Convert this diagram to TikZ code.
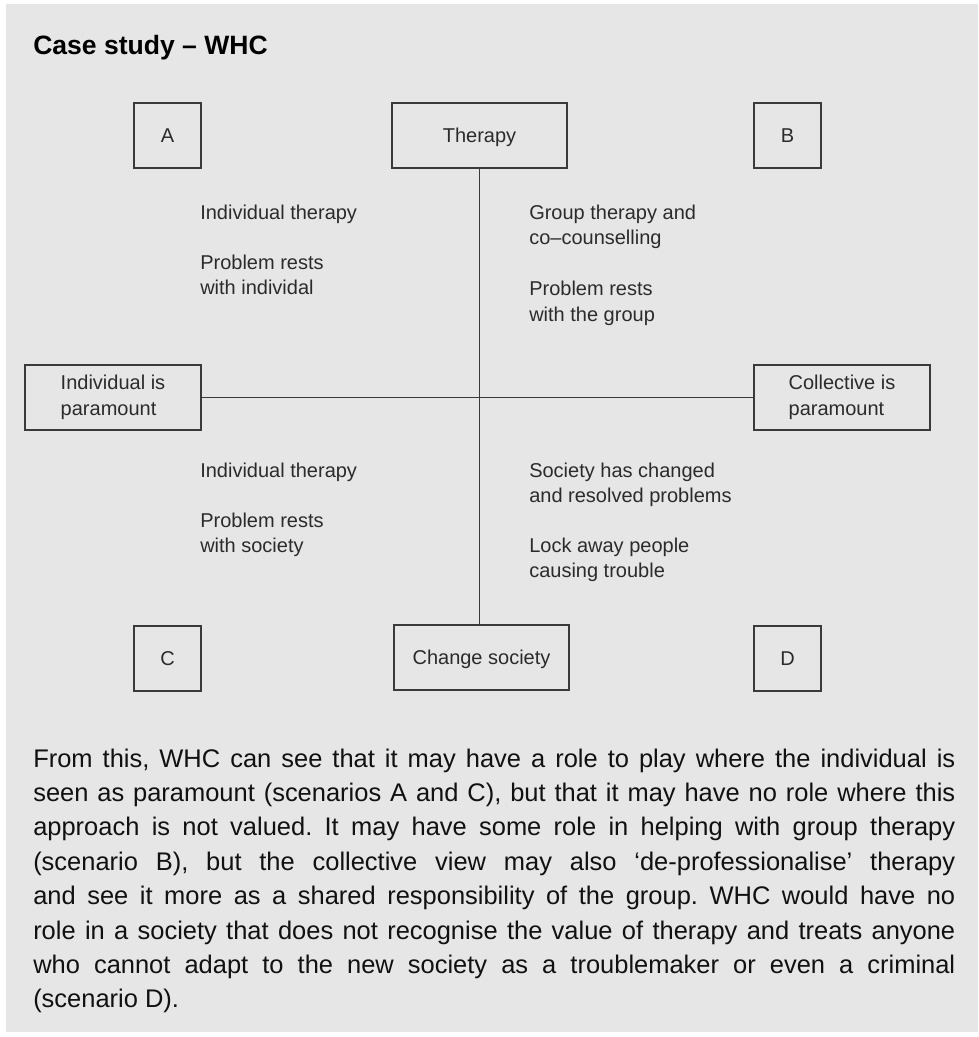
\documentclass[tikz,border=0pt]{standalone}
\usepackage{fontspec}
\setmainfont{Liberation Sans}
\frenchspacing
\definecolor{bggray}{HTML}{E6E6E6}
\definecolor{boxline}{HTML}{3A3A3A}
\definecolor{labeltext}{HTML}{2B2B2B}
\definecolor{paratext}{HTML}{111111}
\begin{document}
\begin{tikzpicture}[x=0.75pt,y=-0.75pt,
  box/.style={draw=boxline, line width=1.1pt, inner sep=0pt, minimum height=48.75pt,
    text=labeltext, font=\fontsize{15}{19.5}\selectfont, align=left},
  one/.style={text height=10.7pt, text depth=0pt},
  sq/.style={box, one, minimum width=50.25pt},
  wide/.style={box, one, minimum width=131.25pt},
  wider/.style={box, minimum width=132pt},
  lbl/.style={anchor=base west, inner sep=0pt, text=labeltext, font=\fontsize{15}{19.5}\selectfont},
  para/.style={anchor=base west, inner sep=0pt, text=paratext, font=\fontsize{19.1}{25.8}\selectfont\frenchspacing},
  link/.style={draw=boxline, line width=1.1pt}]
\useasboundingbox (0,0) rectangle (978,1037);
\fill[fill=bggray] (6,4) rectangle (978,1032);

\node[anchor=base west, inner sep=0pt, text=black, font=\fontsize{19.9}{24}\selectfont\bfseries] (title) at (33,55) {Case study – WHC};

% boxes
\node[sq] (A) at (167.5,135.5) {A};
\node[wide] (therapy) at (479.5,135.5) {Therapy};
\node[sq] (B) at (787.5,135.5) {B};
\node[wider] (ind) at (113,397.5) {Individual is\\paramount};
\node[wider] (coll) at (842,397.5) {Collective is\\paramount};
\node[sq] (C) at (167.5,658.5) {C};
\node[wide] (change) at (481.5,657.5) {Change society};
\node[sq] (D) at (787.5,658.5) {D};

% axes
\draw[link] (therapy.south) -- (therapy.south |- change.north);
\draw[link] (ind.east) -- (coll.west);

% quadrant texts
\node[lbl] (ul1) at (200,220) {Individual therapy};
\node[lbl] (ul2) at (200,270) {Problem rests};
\node[lbl] (ul3) at (200,295) {with individal};

\node[lbl] (ur1) at (529,220) {Group therapy and};
\node[lbl] (ur2) at (529,245) {co–counselling};
\node[lbl] (ur3) at (529,296) {Problem rests};
\node[lbl] (ur4) at (529,321) {with the group};

\node[lbl] (ll1) at (200,477) {Individual therapy};
\node[lbl] (ll2) at (200,527) {Problem rests};
\node[lbl] (ll3) at (200,552) {with society};

\node[lbl] (lr1) at (529,477) {Society has changed};
\node[lbl] (lr2) at (529,502) {and resolved problems};
\node[lbl] (lr3) at (529,552) {Lock away people};
\node[lbl] (lr4) at (529,577) {causing trouble};

% paragraph
\node[para] (p1) at (33,767) {\makebox[691.5pt][s]{From this, WHC can see that it may have a role to play where the individual is}};
\node[para] (p2) at (33,801.4) {\makebox[691.5pt][s]{seen as paramount (scenarios A and C), but that it may have no role where this}};
\node[para] (p3) at (33,835.8) {\makebox[691.5pt][s]{approach is not valued. It may have some role in helping with group therapy}};
\node[para] (p4) at (33,870.2) {\makebox[691.5pt][s]{(scenario B), but the collective view may also ‘de-professionalise’ therapy}};
\node[para] (p5) at (33,904.6) {\makebox[691.5pt][s]{and see it more as a shared responsibility of the group. WHC would have no}};
\node[para] (p6) at (33,939) {\makebox[691.5pt][s]{role in a society that does not recognise the value of therapy and treats anyone}};
\node[para] (p7) at (33,973.4) {\makebox[691.5pt][s]{who cannot adapt to the new society as a troublemaker or even a criminal}};
\node[para] (p8) at (33,1007.8) {(scenario D).};
\end{tikzpicture}
\end{document}
